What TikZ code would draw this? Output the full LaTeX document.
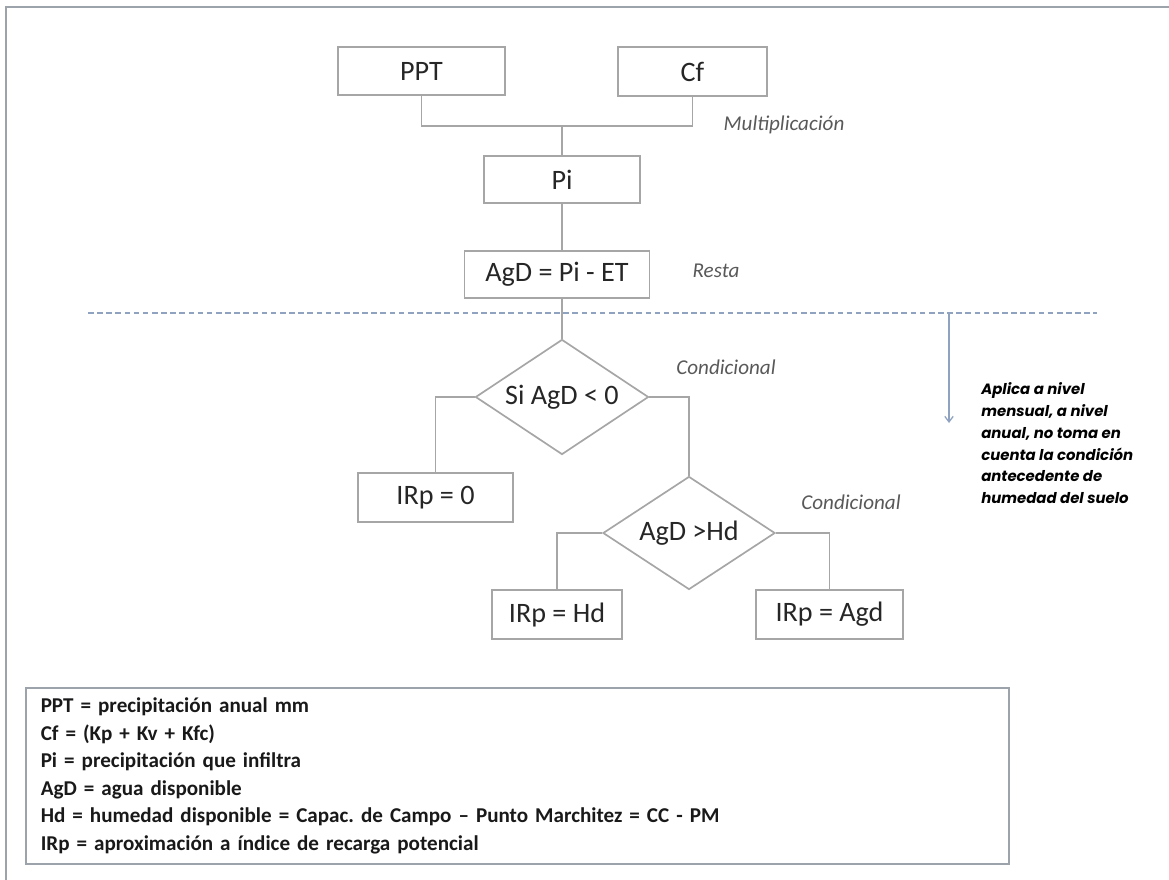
\documentclass[tikz,border=0pt]{standalone}
\usepackage{fontspec}
\setmainfont{Carlito}
\newfontfamily\notafont{Poppins}
\usetikzlibrary{shapes.geometric,arrows.meta}
\frenchspacing

\definecolor{borde}{HTML}{A6A6A6}
\definecolor{texto}{HTML}{262626}
\definecolor{etiq}{HTML}{595959}
\definecolor{guia}{HTML}{8FA2C0}
\definecolor{marco}{HTML}{9CA3AB}

\begin{document}
\begin{tikzpicture}[
x=0.025cm, y=-0.025cm,
caja/.style={rectangle, draw=borde, line width=1.2pt, text=texto, inner sep=0pt, font=\fontsize{20}{24}\selectfont},
decision/.style={diamond, aspect=1.5, draw=borde, line width=1.2pt, text=texto, inner sep=0pt, font=\fontsize{20}{24}\selectfont},
etiqueta/.style={text=etiq, font=\fontsize{15}{18}\selectfont\itshape},
conector/.style={draw=borde, line width=1.2pt},
nota/.style={align=left, inner sep=0pt, font=\notafont\bfseries\itshape\fontsize{10.6}{15.6}\selectfont},
leyenda/.style={rectangle, draw=marco, line width=1.1pt, align=left, inner xsep=0.375cm, text width=23.825cm, minimum height=4.4cm, text=black!90, font=\bfseries\fontsize{15}{19.6}\selectfont},
]
\useasboundingbox (0,0) rectangle (1169,880);
\draw[marco, line width=1.5pt] (6,880) -- (6,7) -- (1169,7);

% calculo de Pi
\node[caja, minimum width=4.175cm, minimum height=1.2cm] (ppt) at (421.5,71) {PPT};
\node[caja, minimum width=3.725cm, minimum height=1.225cm] (cf) at (692.5,71.5) {Cf};
\node[caja, minimum width=3.9cm, minimum height=1.175cm] (pi) at (562,179.5) {Pi};
\node[caja, minimum width=4.625cm, minimum height=1.175cm] (agd) at (557,274.5) {AgD = Pi - ET};
\coordinate (union) at (562,126);
\draw[conector] (ppt.south) |- (union) -| (cf.south);
\draw[conector] (union) -- (pi.north);
\draw[conector] (pi.south) -- (pi.south |- agd.north);

\node[etiqueta] (multi) at (784,125) {Multiplicación};
\node[etiqueta] (resta) at (716,271) {Resta};

% separacion mensual
\coordinate (guiaA) at (88,313);
\coordinate (guiaB) at (1097,313);
\draw[guia, line width=0.9pt, dash pattern=on 4pt off 2.5pt] (guiaA) -- (guiaB);
\coordinate (flechaA) at (949,313);
\coordinate (flechaB) at (949,423);
\draw[guia, line width=0.9pt, -{Straight Barb[length=4pt,width=6pt]}] (flechaA) -- (flechaB);
\node[nota, anchor=north west] (aplica) at (981,382) {Aplica a nivel\\mensual, a nivel\\anual, no toma en\\cuenta la condición\\antecedente de\\humedad del suelo};

% condicionales
\node[decision, minimum width=4.325cm, minimum height=2.875cm] (d1) at (562,397) {Si AgD < 0};
\node[caja, minimum width=3.875cm, minimum height=1.225cm] (irp0) at (435.5,497.5) {IRp = 0};
\node[decision, minimum width=4.3cm, minimum height=2.825cm] (d2) at (689,533) {AgD >Hd};
\node[caja, minimum width=3.25cm, minimum height=1.225cm] (irphd) at (557,614.5) {IRp = Hd};
\node[caja, minimum width=3.675cm, minimum height=1.225cm] (irpagd) at (829.5,614.5) {IRp = Agd};
\draw[conector] (agd.south -| pi.south) -- (d1.north);
\draw[conector] (d1.west) -| (irp0.north);
\draw[conector] (d1.east) -| (d2.north);
\draw[conector] (d2.west) -| (irphd.north);
\draw[conector] (d2.east) -| (irpagd.north);

\node[etiqueta] (cond1) at (726,367) {Condicional};
\node[etiqueta] (cond2) at (851,502) {Condicional};

% leyenda
\node[leyenda, anchor=north west, minimum width=24.575cm] (ley) at (25,687) {PPT = precipitación anual mm\\
Cf = (Kp + Kv + Kfc)\\
Pi = precipitación que infiltra\\
AgD = agua disponible\\
Hd = humedad disponible = Capac. de Campo – Punto Marchitez = CC - PM\\
IRp = aproximación a índice de recarga potencial};
\end{tikzpicture}
\end{document}
